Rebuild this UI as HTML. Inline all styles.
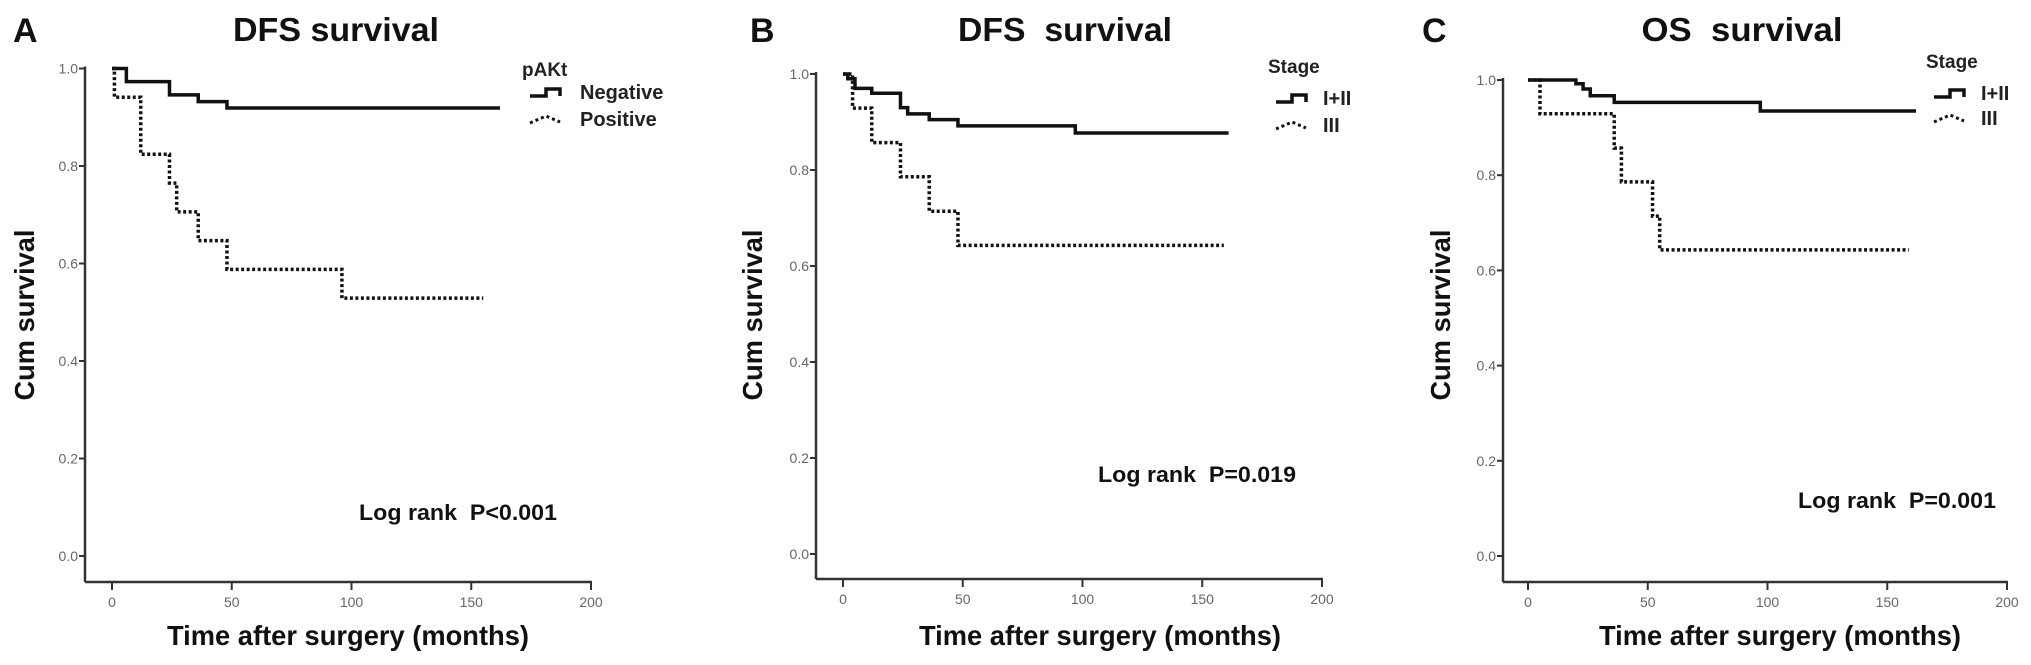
<!DOCTYPE html>
<html><head><meta charset="utf-8"><style>
html,body{margin:0;padding:0;background:#fff;}
svg{display:block;font-family:"Liberation Sans",sans-serif;}
</style></head><body>
<svg id="fig" width="2031" height="665" viewBox="0 0 2031 665" xmlns="http://www.w3.org/2000/svg"></svg>
<script>
// Panel A data (months, cumulative survival)
const aNegTimes = [0, 6, 24, 36, 48, 162];
const aNegSurv  = [1.0, 0.973, 0.946, 0.932, 0.919, 0.919];
const aPosTimes = [0, 1, 12, 24, 27, 36, 48, 96, 155];
const aPosSurv  = [1.0, 0.941, 0.824, 0.765, 0.706, 0.647, 0.588, 0.529, 0.529];
// Panel B data
const bEarlyTimes = [0, 2, 5, 12, 24, 27, 36, 48, 97, 161];
const bEarlySurv  = [1.0, 0.99, 0.97, 0.96, 0.93, 0.917, 0.905, 0.892, 0.877, 0.877];
const bLateTimes  = [0, 4, 12, 24, 36, 48, 159];
const bLateSurv   = [1.0, 0.929, 0.857, 0.786, 0.714, 0.643, 0.643];
// Panel C data
const cEarlyTimes = [0, 20, 23, 26, 36, 97, 162];
const cEarlySurv  = [1.0, 0.992, 0.981, 0.967, 0.953, 0.935, 0.935];
const cLateTimes  = [0, 5, 36, 39, 52, 55, 159];
const cLateSurv   = [1.0, 0.929, 0.857, 0.786, 0.714, 0.643, 0.643];
// Tick labels
const xTicks = [0, 50, 100, 150, 200];
const yTicks = [0.0, 0.2, 0.4, 0.6, 0.8, 1.0];

const NS = "http://www.w3.org/2000/svg";
const svg = document.getElementById('fig');
function el(tag, attrs, parent){
  const e = document.createElementNS(NS, tag);
  for (const k in attrs) e.setAttribute(k, attrs[k]);
  (parent||svg).appendChild(e);
  return e;
}
function txt(s, attrs, parent){ const t = el('text', attrs, parent); t.textContent = s; return t; }

const panels = [
  {key:'a', letter:'A', letterX:13, axisX:85, x0:112, x200:591, y0:556, y1:68.5, lineY:582,
   title:'DFS survival', titleX:336, titleW:206,
   ylabX:24, xlabX:348, logX:359, logY:520, logText:'Log rank\u00a0\u00a0P<0.001',
   legTitle:'pAKt', legX:522, legTY:76, legLX:580, legY1:99, legY2:126, names:['Negative','Positive'],
   s1:[aNegTimes,aNegSurv], s2:[aPosTimes,aPosSurv]},
  {key:'b', letter:'B', letterX:750, axisX:816, x0:843, x200:1322, y0:554, y1:74, lineY:579,
   title:'DFS\u00a0\u00a0survival', titleX:1065, titleW:214,
   ylabX:752, xlabX:1100, logX:1098, logY:482, logText:'Log rank\u00a0\u00a0P=0.019',
   legTitle:'Stage', legX:1268, legTY:73, legLX:1323, legY1:105, legY2:132, names:['I+II','III'],
   s1:[bEarlyTimes,bEarlySurv], s2:[bLateTimes,bLateSurv]},
  {key:'c', letter:'C', letterX:1422, axisX:1503, x0:1528, x200:2007, y0:556, y1:80, lineY:582,
   title:'OS\u00a0\u00a0survival', titleX:1742, titleW:201,
   ylabX:1440, xlabX:1780, logX:1798, logY:508, logText:'Log rank\u00a0\u00a0P=0.001',
   legTitle:'Stage', legX:1926, legTY:68, legLX:1981, legY1:100, legY2:125, names:['I+II','III'],
   s1:[cEarlyTimes,cEarlySurv], s2:[cLateTimes,cLateSurv]}
];

panels.forEach(p => {
  const g = el('g', {});
  
  
  const X = t => p.x0 + (t/200)*(p.x200 - p.x0);
  const Y = v => p.y0 - v*(p.y0 - p.y1);

  const lt = txt(p.letter, {x:p.letterX, y:42, 'font-size':34, 'font-weight':'bold', fill:'#111'}, g);
  
  
  const tt = txt(p.title, {x:p.titleX, y:41, 'font-size':33, 'font-weight':'bold', fill:'#111', 'text-anchor':'middle', textLength:p.titleW, lengthAdjust:'spacingAndGlyphs'}, g);
  
  

  const ya = el('line', {x1:p.axisX, y1:Y(1.0)-2, x2:p.axisX, y2:p.lineY, stroke:'#333', 'stroke-width':2.5}, g);
  
  
  const xa = el('line', {x1:p.axisX, y1:p.lineY, x2:X(200)+1, y2:p.lineY, stroke:'#333', 'stroke-width':2.5}, g);
  
  

  yTicks.forEach(v => {
    el('line', {x1:p.axisX-6, y1:Y(v), x2:p.axisX, y2:Y(v), stroke:'#333', 'stroke-width':2}, g);
    const t = txt(v.toFixed(1), {x:p.axisX-7, y:Y(v)+5, 'font-size':14, fill:'#666', 'text-anchor':'end'}, g);
    
    
  });
  xTicks.forEach(v => {
    el('line', {x1:X(v), y1:p.lineY, x2:X(v), y2:p.lineY+8, stroke:'#333', 'stroke-width':2}, g);
    const t = txt(String(v), {x:X(v), y:p.lineY+25, 'font-size':14, fill:'#666', 'text-anchor':'middle'}, g);
    
    
  });

  const yl = txt('Cum survival', {x:0, y:0, 'font-size':28, 'font-weight':'bold', fill:'#111', 'text-anchor':'middle', textLength:171, lengthAdjust:'spacingAndGlyphs', transform:'translate(' + (p.ylabX+10) + ',315) rotate(-90)'}, g);
  
  
  const xl = txt('Time after surgery (months)', {x:p.xlabX, y:645, 'font-size':28, 'font-weight':'bold', fill:'#111', 'text-anchor':'middle', textLength:362, lengthAdjust:'spacingAndGlyphs'}, g);
  
  

  const lr = txt(p.logText, {x:p.logX, y:p.logY, 'font-size':22, 'font-weight':'bold', fill:'#111', textLength:198, lengthAdjust:'spacingAndGlyphs'}, g);
  
  

  function stepPath(times, surv){
    let d = 'M' + X(times[0]) + ' ' + Y(surv[0]);
    for (let i = 1; i < times.length; i++){
      d += ' H' + X(times[i]) + ' V' + Y(surv[i]);
    }
    return d;
  }
  const c1 = el('path', {d:stepPath(p.s1[0], p.s1[1]), fill:'none', stroke:'#111', 'stroke-width':3.5}, g);
  
  
  const c2 = el('path', {d:stepPath(p.s2[0], p.s2[1]), fill:'none', stroke:'#111', 'stroke-width':3.5, 'stroke-dasharray':'3 2.5'}, g);
  
  

  const lg = el('g', {}, g);
  
  
  txt(p.legTitle, {x:p.legX, y:p.legTY, 'font-size':19, 'font-weight':'bold', fill:'#222'}, lg);
  const sx = p.legX + 8;
  const e1 = el('g', {}, lg);
  
  
  el('path', {d:'M'+sx+' '+(p.legY1-3)+' H'+(sx+16)+' V'+(p.legY1-10)+' H'+(sx+30)+' V'+(p.legY1-3), fill:'none', stroke:'#111', 'stroke-width':3.5}, e1);
  txt(p.names[0], {x:p.legLX, y:p.legY1, 'font-size':20, 'font-weight':'bold', fill:'#222'}, e1);
  const e2 = el('g', {}, lg);
  
  
  el('path', {d:'M'+sx+' '+(p.legY2-3)+' L'+(sx+16)+' '+(p.legY2-10)+' L'+(sx+30)+' '+(p.legY2-4), fill:'none', stroke:'#111', 'stroke-width':3, 'stroke-dasharray':'3 3'}, e2);
  txt(p.names[1], {x:p.legLX, y:p.legY2, 'font-size':20, 'font-weight':'bold', fill:'#222'}, e2);
});
</script>
</body></html>
